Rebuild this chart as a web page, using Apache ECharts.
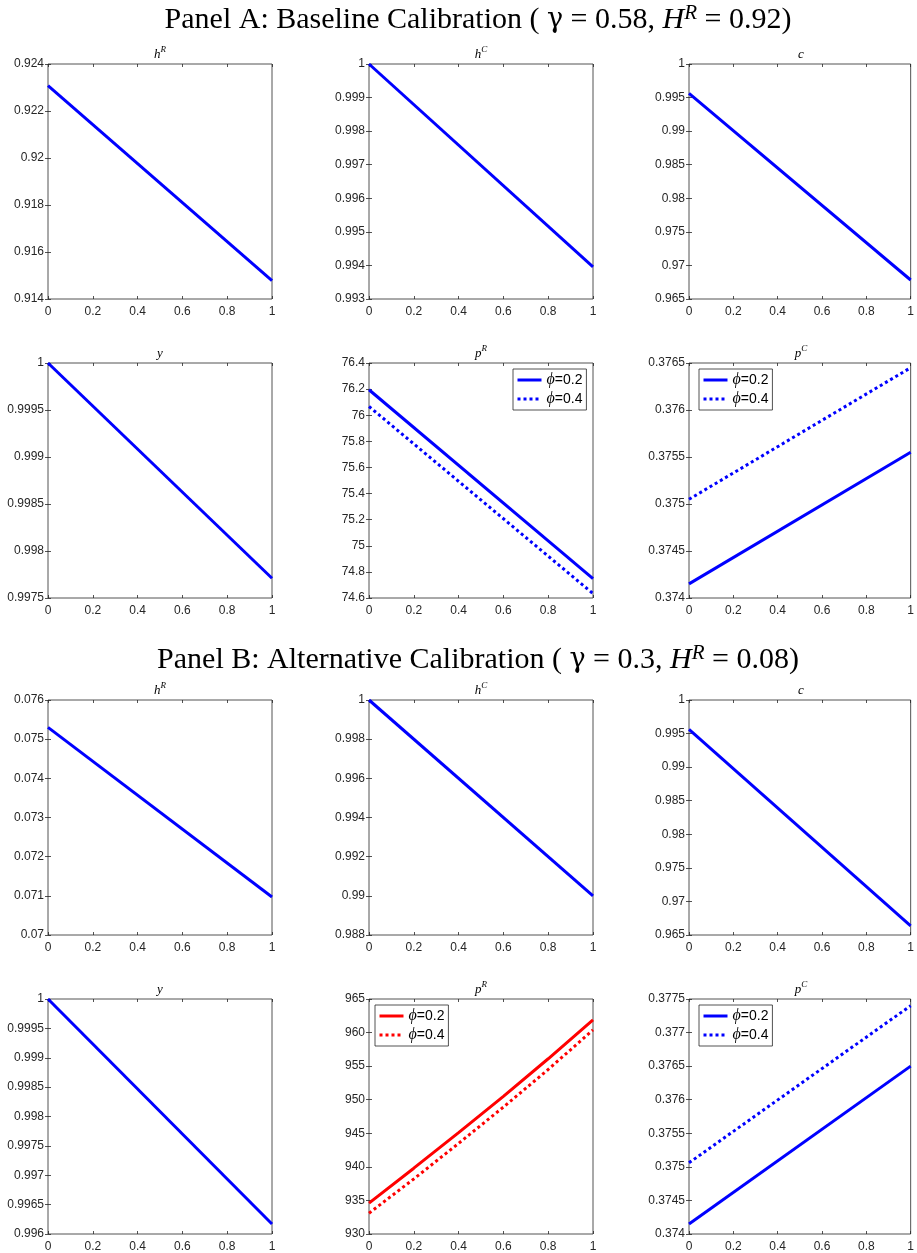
<!DOCTYPE html>
<html>
<head>
<meta charset="utf-8">
<script src="https://cdn.jsdelivr.net/npm/echarts@6/dist/echarts.min.js"></script>
<style>
html,body{margin:0;padding:0;background:#fff;}
#c{width:917px;height:1253px;}
</style>
</head>
<body>
<div id="c"></div>
<script>
// ---- data ----
const xLine = [0, 1];
const xCurve = [0, 0.2, 0.4, 0.6, 0.8, 1];

// Panel A
const A_hR = [0.92308, 0.91478];
const A_hC = [1.0, 0.99396];
const A_c  = [0.99563, 0.96783];
const A_y  = [1.0, 0.99771];
const A_pR_phi02 = [76.195, 74.748];
const A_pR_phi04 = [76.067, 74.634];
const A_pC_phi02 = [0.37415, 0.37555];
const A_pC_phi04 = [0.37505, 0.37645];

// Panel B
const B_hR = [0.07530, 0.07097];
const B_hC = [1.0, 0.99];
const B_c  = [0.99564, 0.96637];
const B_y  = [1.0, 0.99617];
const B_pR_phi02 = [934.6, 939.8, 945.1, 950.5, 956.1, 961.9];
const B_pR_phi04 = [933.1, 938.2, 943.5, 948.9, 954.5, 960.4];
const B_pC_phi02 = [0.37415, 0.37650];
const B_pC_phi04 = [0.37506, 0.37740];

// axis ranges: [min, max, interval]
const yRanges = [
  [0.914, 0.924, 0.002], [0.993, 1, 0.001], [0.965, 1, 0.005],
  [0.9975, 1, 0.0005], [74.6, 76.4, 0.2], [0.374, 0.3765, 0.0005],
  [0.07, 0.076, 0.001], [0.988, 1, 0.002], [0.965, 1, 0.005],
  [0.996, 1, 0.0005], [930, 965, 5], [0.374, 0.3775, 0.0005]
];
const xRange = [0, 1, 0.2];

const subTitles = [
  ['h','R'], ['h','C'], ['c',''], ['y',''], ['p','R'], ['p','C'],
  ['h','R'], ['h','C'], ['c',''], ['y',''], ['p','R'], ['p','C']
];
const legendLabels = ['=0.2', '=0.4'];

// ---- layout ----
const colLeft = [48, 369, 689];
const rowTop = [64, 363, 700, 999];
const W = 224, H = 235;
const BLUE = '#0000ff', RED = '#ff0000';
const AX = '#262626';

function pairs(xs, ys){ return xs.map((x,i)=>[x, ys[i]]); }

const seriesDefs = [
  // [panelIndex, name, xs, ys, color, dotted]
  [0, 'a0', xLine, A_hR, BLUE, false],
  [1, 'a1', xLine, A_hC, BLUE, false],
  [2, 'a2', xLine, A_c, BLUE, false],
  [3, 'a3', xLine, A_y, BLUE, false],
  [4, 'A_pR_02', xLine, A_pR_phi02, BLUE, false],
  [4, 'A_pR_04', xLine, A_pR_phi04, BLUE, true],
  [5, 'A_pC_02', xLine, A_pC_phi02, BLUE, false],
  [5, 'A_pC_04', xLine, A_pC_phi04, BLUE, true],
  [6, 'b0', xLine, B_hR, BLUE, false],
  [7, 'b1', xLine, B_hC, BLUE, false],
  [8, 'b2', xLine, B_c, BLUE, false],
  [9, 'b3', xLine, B_y, BLUE, false],
  [10, 'B_pR_02', xCurve, B_pR_phi02, RED, false],
  [10, 'B_pR_04', xCurve, B_pR_phi04, RED, true],
  [11, 'B_pC_02', xLine, B_pC_phi02, BLUE, false],
  [11, 'B_pC_04', xLine, B_pC_phi04, BLUE, true]
];

const grids = [], xAxes = [], yAxes = [], series = [], titles = [], legends = [];
const labelFont = {fontFamily: 'Liberation Sans, Arial, sans-serif', fontSize: 12, color: AX};
const LW = 3;

for (let p = 0; p < 12; p++) {
  const r = Math.floor(p/3), c = p%3;
  grids.push({left: colLeft[c], top: rowTop[r], width: W, height: H,
    show: true, borderColor: AX, borderWidth: 0.8, backgroundColor: '#fff', containLabel: false});
  const [ymin, ymax, yint] = yRanges[p];
  const tick = {show: true, inside: true, length: 3, lineStyle: {color: AX, width: 0.8}};
  xAxes.push({type: 'value', gridIndex: p, min: xRange[0], max: xRange[1], interval: xRange[2],
    position: 'bottom', axisLine: {show: false}, axisTick: tick, splitLine: {show: false},
    axisLabel: Object.assign({margin: 7}, labelFont)});
  xAxes.push({type: 'value', gridIndex: p, min: xRange[0], max: xRange[1], interval: xRange[2],
    position: 'top', axisLine: {show: false}, axisTick: tick, splitLine: {show: false},
    axisLabel: {show: false}});
  yAxes.push({type: 'value', gridIndex: p, min: ymin, max: ymax, interval: yint,
    position: 'left', axisLine: {show: false}, axisTick: tick, splitLine: {show: false},
    axisLabel: Object.assign({margin: 4}, labelFont)});
  yAxes.push({type: 'value', gridIndex: p, min: ymin, max: ymax, interval: yint,
    position: 'right', axisLine: {show: false}, axisTick: tick, splitLine: {show: false},
    axisLabel: {show: false}});
  const st = subTitles[p];
  titles.push({
    text: '{i|' + st[0] + '}' + (st[1] ? '{s|' + st[1] + '}' : ''),
    left: colLeft[c] + W/2, top: rowTop[r] - 19, textAlign: 'center',
    padding: 0,
    textStyle: {fontWeight: 'normal', rich: {
      i: {fontFamily: 'Liberation Serif, serif', fontStyle: 'italic', fontWeight: 'normal', fontSize: 13, lineHeight: 16, color: '#000', verticalAlign: 'bottom'},
      s: {fontFamily: 'Liberation Serif, serif', fontStyle: 'italic', fontWeight: 'normal', fontSize: 9, lineHeight: 10, color: '#000', verticalAlign: 'top'}
    }}
  });
}

seriesDefs.forEach(d => {
  const [p, name, xs, ys, color, dotted] = d;
  series.push({
    type: 'line', name: name, xAxisIndex: p*2, yAxisIndex: p*2,
    data: pairs(xs, ys), showSymbol: false, symbol: 'none', smooth: false,
    lineStyle: {color: color, width: LW, type: dotted ? [LW, LW] : 'solid'},
    itemStyle: {color: color}, animation: false, silent: true
  });
});

// legends
const legendPos = [
  {names: ['A_pR_02','A_pR_04'], left: 513, top: 369},
  {names: ['A_pC_02','A_pC_04'], left: 699, top: 369},
  {names: ['B_pR_02','B_pR_04'], left: 375, top: 1005},
  {names: ['B_pC_02','B_pC_04'], left: 699, top: 1005}
];
legendPos.forEach(lp => {
  legends.push({
    data: lp.names, left: lp.left, top: lp.top, orient: 'vertical',
    itemWidth: 24, itemHeight: 12, itemGap: 3, itemTextGap: 3,
    padding: [3, 4, 3, 3], borderColor: AX, borderWidth: 0.8, backgroundColor: '#fff',
    selectedMode: false,
    itemStyle: {opacity: 0},
    lineStyle: {width: LW},
    formatter: function(n){ return '{p|ϕ}{t|' + (n.endsWith('02') ? legendLabels[0] : legendLabels[1]) + '}'; },
    textStyle: {rich: {
      p: {fontFamily: 'Liberation Serif, serif', fontStyle: 'italic', fontSize: 16, color: '#000', lineHeight: 18},
      t: {fontFamily: 'Liberation Sans, Arial, sans-serif', fontSize: 14, color: '#000', lineHeight: 18}
    }}
  });
});

// main panel titles
function mainTitle(text, top){
  const base = {fontFamily: 'Liberation Serif, Times New Roman, serif', fontWeight: 'normal', fontSize: 30, color: '#000', lineHeight: 34};
  return {
    text: text, left: 478, top: top, textAlign: 'center', padding: 0,
    textStyle: {fontWeight: 'normal', rich: {
      t: base,
      g: Object.assign({}, base, {fontFamily: 'DejaVu Serif, serif', fontSize: 27}),
      i: Object.assign({}, base, {fontStyle: 'italic'}),
      s: Object.assign({}, base, {fontStyle: 'italic', fontSize: 21, lineHeight: 21, verticalAlign: 'top'})
    }}
  };
}
titles.push(mainTitle('{t|Panel A: Baseline Calibration ( }{g|γ}{t| = 0.58, }{i|H}{s|R}{t| = 0.92)}', 3));
titles.push(mainTitle('{t|Panel B: Alternative Calibration ( }{g|γ}{t| = 0.3, }{i|H}{s|R}{t| = 0.08)}', 643));

const chart = echarts.init(document.getElementById('c'), null, {renderer: 'canvas'});
chart.setOption({
  animation: false,
  backgroundColor: '#fff',
  title: titles,
  legend: legends,
  grid: grids,
  xAxis: xAxes,
  yAxis: yAxes,
  series: series
});
</script>
</body>
</html>
